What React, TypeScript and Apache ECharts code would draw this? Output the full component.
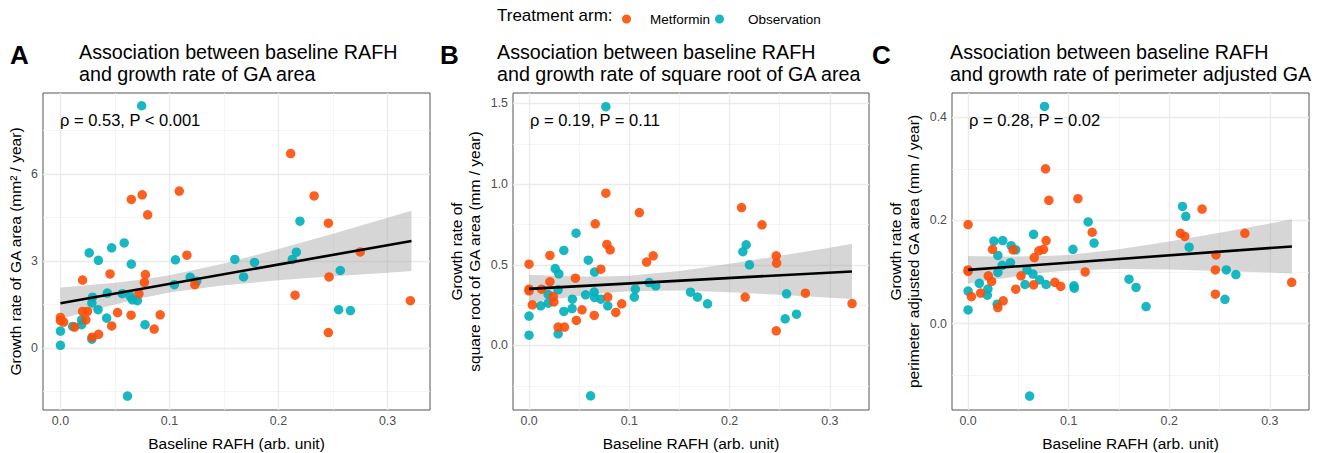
import React, { useEffect, useRef } from "react";
import * as echarts from "echarts";

// ---------- data ----------
const xTicks = [0, 0.1, 0.2, 0.3];
const xMinor = [0.05, 0.15, 0.25];

// Panel A: growth rate of GA area (mm^2 / year)
const observationA: [number, number][] = [
  [0.0745, 8.36], [0.0264, 3.29], [0.0348, 3.03], [0.047, 3.46], [0.0585, 3.63], [0.065, 2.9],
  [0.1055, 3.05], [0.119, 2.45], [0.125, 2.31], [0.1045, 2.19], [0.16, 3.06], [0.0294, 1.76],
  [0.0288, 1.56], [0.043, 1.9], [0.0567, 1.88], [0.064, 1.79], [0.066, 1.67], [0.0706, 1.64],
  [0.0345, 1.33], [0.0424, 1.04], [0.0776, 0.81], [0.0194, 0.98], [0.0194, 0.81], [0.0112, 0.75],
  [0, 0.59], [0, 0.1], [0.0288, 0.31], [0.0615, -1.65], [0.178, 2.96], [0.168, 2.46],
  [0.2164, 3.31], [0.2127, 3.06], [0.2197, 4.38], [0.2567, 2.68], [0.2552, 1.33], [0.266, 1.3],
];
const metforminA: [number, number][] = [
  [0.065, 5.13], [0.075, 5.29], [0.08, 4.6], [0.109, 5.42], [0.116, 3.21], [0.0203, 2.35],
  [0.0455, 2.56], [0.0779, 2.54], [0.077, 2.27], [0.072, 1.88], [0.1233, 2.19], [0.0203, 1.27],
  [0.0248, 1.27], [0.0233, 0.98], [0.0524, 1.23], [0.0648, 1.14], [0.0915, 1.15], [0.047, 0.77],
  [0.086, 0.66], [0, 1.06], [0, 0.95], [0.003, 0.9], [0.013, 0.73], [0.029, 0.38], [0.035, 0.48],
  [0.2112, 6.71], [0.2327, 5.25], [0.2458, 4.31], [0.275, 3.32], [0.2464, 2.46], [0.2152, 1.83],
  [0.321, 1.64], [0.2458, 0.54],
];
const fitA: [number, number][] = [[0, 1.55], [0.322, 3.7]];
const bandX = [0, 0.025, 0.05, 0.075, 0.1, 0.15, 0.2, 0.25, 0.3, 0.322];
const bandLowA = [1.01, 1.27, 1.51, 1.73, 1.92, 2.17, 2.34, 2.48, 2.6, 2.66];
const bandHighA = [2.09, 2.17, 2.26, 2.37, 2.52, 2.92, 3.42, 3.95, 4.5, 4.74];

// Panel B: growth rate of square root of GA area (mm / year)
const observationB: [number, number][] = [
  [0.0766, 1.48], [0.0469, 0.696], [0.0347, 0.589], [0.0261, 0.477], [0.0297, 0.444], [0.0591, 0.529],
  [0.0653, 0.455], [0.0191, 0.316], [0.0116, 0.246], [0.0191, 0.262], [0.029, 0.345], [0.0432, 0.287],
  [0.0347, 0.211], [0.0429, 0.229], [0.0564, 0.314], [0.065, 0.331], [0.0653, 0.298], [0.0716, 0.287],
  [0.0785, 0.246], [0, 0.182], [0, 0.064], [0.029, 0.072], [0.0614, -0.312], [0.105, 0.3],
  [0.106, 0.349], [0.1198, 0.39], [0.1264, 0.37], [0.161, 0.33], [0.168, 0.3], [0.178, 0.258],
  [0.2165, 0.624], [0.2132, 0.581], [0.2198, 0.5], [0.2568, 0.32], [0.2554, 0.165], [0.2667, 0.194],
];
const metforminB: [number, number][] = [
  [0.0766, 0.944], [0.11, 0.824], [0.066, 0.754], [0.0776, 0.626], [0.0809, 0.593], [0.0208, 0.558],
  [0, 0.504], [0.0716, 0.473], [0.1238, 0.556], [0.1172, 0.517], [0.0208, 0.395], [0.0462, 0.417],
  [0.0125, 0.349], [0, 0.349], [0, 0.339], [0.0241, 0.304], [0.0248, 0.27], [0.0033, 0.252],
  [0.0785, 0.3], [0.0924, 0.258], [0.0865, 0.205], [0.0528, 0.221], [0.065, 0.186], [0.0472, 0.155],
  [0.029, 0.114], [0.0353, 0.114], [0.2119, 0.855], [0.2323, 0.748], [0.2465, 0.556], [0.2469, 0.51],
  [0.2756, 0.324], [0.2155, 0.3], [0.3221, 0.26], [0.2465, 0.091],
];
const fitB: [number, number][] = [[0, 0.351], [0.322, 0.459]];
const bandLowB = [0.263, 0.286, 0.307, 0.325, 0.336, 0.34, 0.33, 0.314, 0.296, 0.288];
const bandHighB = [0.439, 0.432, 0.428, 0.427, 0.432, 0.461, 0.506, 0.556, 0.606, 0.63];

// Panel C: growth rate of perimeter adjusted GA area (mm / year)
const observationC: [number, number][] = [
  [0.076, 0.421], [0.0651, 0.173], [0.0257, 0.16], [0.0345, 0.161], [0.0428, 0.151], [0.0474, 0.143],
  [0.0296, 0.132], [0.0339, 0.113], [0.0421, 0.118], [0.0586, 0.104], [0.0645, 0.096], [0.0296, 0.099],
  [0.0112, 0.078], [0.0197, 0.067], [0.0191, 0.055], [0, 0.063], [0, 0.0265], [0.0289, 0.0375],
  [0.0566, 0.0757], [0.0711, 0.0848], [0.0776, 0.0757], [0.0612, -0.1405], [0.1194, 0.197], [0.1253, 0.156],
  [0.1043, 0.144], [0.1053, 0.0731], [0.1056, 0.0686], [0.16, 0.086], [0.167, 0.07], [0.177, 0.033],
  [0.2132, 0.227], [0.2165, 0.208], [0.2198, 0.148], [0.2568, 0.104], [0.2663, 0.095], [0.2554, 0.047],
];
const metforminC: [number, number][] = [
  [0.077, 0.3], [0.0803, 0.239], [0.1092, 0.242], [0, 0.192], [0.1234, 0.177], [0.0776, 0.161],
  [0.0243, 0.144], [0.0447, 0.143], [0.0704, 0.141], [0.075, 0.144], [0.0658, 0.128], [0, 0.104],
  [0, 0.101], [0.1164, 0.1], [0.0201, 0.0926], [0.0234, 0.0816], [0.0526, 0.0926], [0.0474, 0.0667],
  [0.0651, 0.075], [0.0862, 0.08], [0.0921, 0.072], [0.0033, 0.0524], [0.0125, 0.059], [0.0349, 0.044],
  [0.0296, 0.031], [0.2327, 0.222], [0.2112, 0.175], [0.2155, 0.169], [0.2752, 0.175], [0.2465, 0.133],
  [0.2459, 0.104], [0.2459, 0.057], [0.3218, 0.08],
];
const fitC: [number, number][] = [[0, 0.104], [0.322, 0.1495]];
const bandLowC = [0.077, 0.085, 0.092, 0.099, 0.103, 0.106, 0.105, 0.102, 0.099, 0.097];
const bandHighC = [0.131, 0.13, 0.13, 0.131, 0.133, 0.144, 0.159, 0.176, 0.194, 0.202];

const yMajorA = [0, 3, 6];
const yMinorA = [-1.5, 1.5, 4.5, 7.5];
const yMajorB = [0, 0.5, 1, 1.5];
const yMinorB = [-0.25, 0.25, 0.75, 1.25];
const yMajorC = [0, 0.2, 0.4];
const yMinorC = [-0.1, 0.1, 0.3];

const titlesLine1 = [
  "Association between baseline RAFH",
  "Association between baseline RAFH",
  "Association between baseline RAFH",
];
const titlesLine2 = [
  "and growth rate of GA area",
  "and growth rate of square root of GA area",
  "and growth rate of perimeter adjusted GA",
];
const yTitles = [
  "Growth rate of GA area (mm² / year)",
  "Growth rate of\nsquare root of GA area (mm / year)",
  "Growth rate of\nperimeter adjusted GA area (mm / year)",
];
const corrTexts = ["ρ = 0.53, P < 0.001", "ρ = 0.19, P = 0.11", "ρ = 0.28, P = 0.02"];
const panelLetters = ["A", "B", "C"];
const legendTitle = "Treatment arm:";
const arms = ["Metformin", "Observation"];

// ---------- layout ----------
const FONT = '"Liberation Sans", Arial, Helvetica, sans-serif';
const COL_MET = "#FC4E07";
const COL_OBS = "#00AFBB";
const X_MIN = -0.016;
const X_MAX = 0.339;

const panels = [
  {
    left: 43, width: 387, yMin: -2.13, yMax: 8.8, yMajor: yMajorA, yMinor: yMinorA, dec: 0,
    obs: observationA, met: metforminA, fit: fitA, lo: bandLowA, hi: bandHighA,
    letterX: 10, titleX: 79, yTitleX: 15,
  },
  {
    left: 513, width: 356, yMin: -0.4, yMax: 1.565, yMajor: yMajorB, yMinor: yMinorB, dec: 1,
    obs: observationB, met: metforminB, fit: fitB, lo: bandLowB, hi: bandHighB,
    letterX: 440, titleX: 497, yTitleX: 465,
  },
  {
    left: 952, width: 357, yMin: -0.1676, yMax: 0.447, yMajor: yMajorC, yMinor: yMinorC, dec: 1,
    obs: observationC, met: metforminC, fit: fitC, lo: bandLowC, hi: bandHighC,
    letterX: 872, titleX: 950, yTitleX: 904,
  },
];
const TOP = 93;
const HEIGHT = 317;

export default function App() {
  const ref = useRef<HTMLDivElement>(null);

  useEffect(() => {
    if (!ref.current) return;
    const chart = echarts.init(ref.current, undefined, { renderer: "svg" });

    const grids: any[] = [];
    const xAxes: any[] = [];
    const yAxes: any[] = [];
    const series: any[] = [];
    const graphics: any[] = [];

    panels.forEach((p, i) => {
      grids.push({
        left: p.left, top: TOP, width: p.width, height: HEIGHT,
        show: true, borderColor: "#555555", borderWidth: 1, backgroundColor: "#ffffff",
      });
      xAxes.push({
        type: "value", gridIndex: i, min: X_MIN, max: X_MAX,
        axisLine: { show: false },
        splitLine: { show: false },
        axisTick: { show: true, length: 3, customValues: xTicks, lineStyle: { color: "#333333" } },
        axisLabel: {
          customValues: xTicks, color: "#4D4D4D", fontSize: 12.4, fontFamily: FONT, margin: 5,
          formatter: (v: number) => v.toFixed(1),
        },
      });
      yAxes.push({
        type: "value", gridIndex: i, min: p.yMin, max: p.yMax,
        axisLine: { show: false },
        splitLine: { show: false },
        axisTick: { show: true, length: 3, customValues: p.yMajor, lineStyle: { color: "#333333" } },
        axisLabel: {
          customValues: p.yMajor, color: "#4D4D4D", fontSize: 12.4, fontFamily: FONT, margin: 5,
          formatter: (v: number) => v.toFixed(p.dec),
        },
      });

      const gridLines: any[] = [];
      xMinor.forEach((v) => gridLines.push({ xAxis: v, lineStyle: { color: "#F2F2F2", width: 0.8, type: "solid" } }));
      p.yMinor.forEach((v) => gridLines.push({ yAxis: v, lineStyle: { color: "#F2F2F2", width: 0.8, type: "solid" } }));
      xTicks.forEach((v) => gridLines.push({ xAxis: v, lineStyle: { color: "#EBEBEB", width: 1.3, type: "solid" } }));
      p.yMajor.forEach((v) => gridLines.push({ yAxis: v, lineStyle: { color: "#EBEBEB", width: 1.3, type: "solid" } }));

      series.push({
        type: "line", xAxisIndex: i, yAxisIndex: i, data: [], silent: true, z: 1,
        markLine: {
          silent: true, symbol: ["none", "none"], label: { show: false }, animation: false, z: 1,
          emphasis: { disabled: true },
          data: gridLines,
        },
      });

      const lo = p.lo;
      const hi = p.hi;
      series.push({
        type: "custom", xAxisIndex: i, yAxisIndex: i, silent: true, z: 2,
        data: [[0, 0]],
        renderItem: (_params: any, api: any) => {
          const pts: number[][] = [];
          for (let k = 0; k < bandX.length; k++) pts.push(api.coord([bandX[k], hi[k]]));
          for (let k = bandX.length - 1; k >= 0; k--) pts.push(api.coord([bandX[k], lo[k]]));
          return { type: "polygon", shape: { points: pts }, style: { fill: "rgba(153,153,153,0.4)" } };
        },
      });

      series.push({
        type: "scatter", name: arms[1], xAxisIndex: i, yAxisIndex: i, data: p.obs,
        symbolSize: 9.5, z: 4, itemStyle: { color: COL_OBS, opacity: 0.9 },
        emphasis: { disabled: true },
      });
      series.push({
        type: "scatter", name: arms[0], xAxisIndex: i, yAxisIndex: i, data: p.met,
        symbolSize: 9.5, z: 4, itemStyle: { color: COL_MET, opacity: 0.9 },
        emphasis: { disabled: true },
      });
      series.push({
        type: "line", xAxisIndex: i, yAxisIndex: i, data: p.fit, showSymbol: false, silent: true, z: 5,
        lineStyle: { color: "#000000", width: 2.6 },
      });

      const cx = p.left + p.width / 2;
      const cy = TOP + HEIGHT / 2;
      graphics.push(
        { type: "text", x: p.letterX, y: 55, style: { text: panelLetters[i], fontSize: 26, fontWeight: "bold", fontFamily: FONT, fill: "#000", align: "left", verticalAlign: "middle" } },
        { type: "text", x: p.titleX, y: 52, style: { text: titlesLine1[i], fontSize: 19.7, fontFamily: FONT, fill: "#000", align: "left", verticalAlign: "middle" } },
        { type: "text", x: p.titleX, y: 74, style: { text: titlesLine2[i], fontSize: 19.7, fontFamily: FONT, fill: "#000", align: "left", verticalAlign: "middle" } },
        { type: "text", x: p.left + 17, y: 120, z: 10, style: { text: corrTexts[i], fontSize: 16.5, fontFamily: FONT, fill: "#000", align: "left", verticalAlign: "middle" } },
        { type: "text", x: cx, y: 443, style: { text: "Baseline RAFH (arb. unit)", fontSize: 15.5, fontFamily: FONT, fill: "#000", align: "center", verticalAlign: "middle" } },
        { type: "text", x: p.yTitleX, y: cy, rotation: Math.PI / 2, style: { text: yTitles[i], fontSize: 15.5, lineHeight: 18, fontFamily: FONT, fill: "#000", align: "center", verticalAlign: "middle" } },
      );
    });

    graphics.push({
      type: "text", x: 497, y: 15,
      style: { text: legendTitle, fontSize: 17, fontFamily: FONT, fill: "#000", align: "left", verticalAlign: "middle" },
    });

    const legendBase = {
      orient: "horizontal", top: 7, icon: "circle", itemHeight: 9,
      selectedMode: false,
      textStyle: { fontSize: 13.5, fontFamily: FONT, color: "#000" },
    };

    chart.setOption({
      animation: false,
      backgroundColor: "#ffffff",
      textStyle: { fontFamily: FONT },
      grid: grids,
      xAxis: xAxes,
      yAxis: yAxes,
      legend: [
        { ...legendBase, data: [arms[0]], itemWidth: 37, left: 617 },
        { ...legendBase, data: [arms[1]], itemWidth: 47, left: 710 },
      ],
      series,
      graphic: graphics,
    });

    return () => chart.dispose();
  }, []);

  return (
    <div
      ref={ref}
      style={{ position: "fixed", left: 0, top: 0, width: 1327, height: 453, background: "#fff" }}
    />
  );
}
